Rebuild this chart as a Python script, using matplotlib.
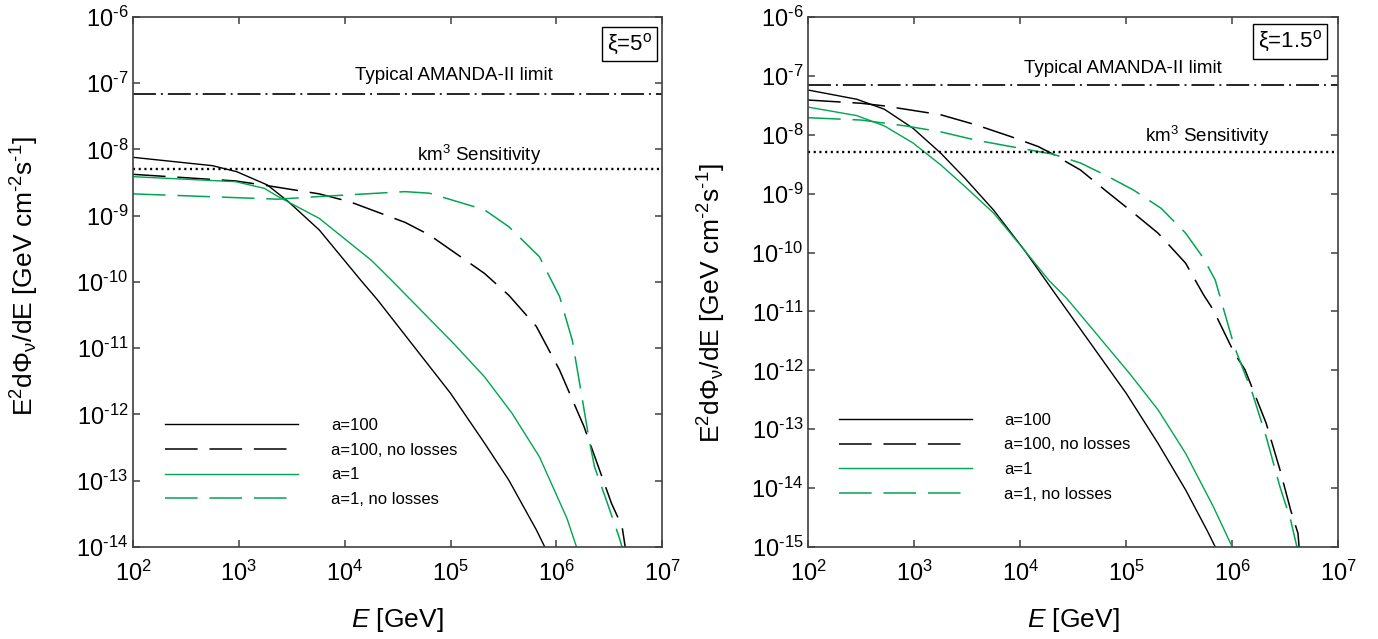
import numpy as np
import matplotlib
matplotlib.use("Agg")
import matplotlib.pyplot as plt
from matplotlib.ticker import FixedLocator, FixedFormatter, NullLocator

plt.rcParams['font.family'] = ['Liberation Sans', 'DejaVu Sans']
plt.rcParams['mathtext.fontset'] = 'custom'
plt.rcParams['mathtext.rm'] = 'Liberation Sans'
plt.rcParams['mathtext.it'] = 'Liberation Sans:italic'
plt.rcParams['mathtext.bf'] = 'Liberation Sans:bold'
plt.rcParams['mathtext.sf'] = 'Liberation Sans'
plt.rcParams['lines.scale_dashes'] = False

# ---------------- data (log10 values) ----------------
# Panel 1: xi = 5 deg
logE_p1_a100 = [2.0, 2.75, 2.98, 3.27, 3.47, 3.76, 4.15, 4.31, 5.0, 5.32, 5.55, 5.81, 5.89]
logF_p1_a100 = [-8.118, -8.244, -8.335, -8.536, -8.79, -9.215, -9.97, -10.27, -11.68, -12.43, -12.99, -13.74, -14.0]

logE_p1_a100_nl = [2.0, 2.97, 3.27, 3.76, 4.05, 4.57, 4.80, 5.32, 5.55, 5.81, 6.03, 6.26, 6.52, 6.62, 6.65]
logF_p1_a100_nl = [-8.375, -8.475, -8.546, -8.67, -8.79, -9.1, -9.29, -9.87, -10.2, -10.67, -11.33, -12.18, -13.34, -13.69, -14.0]

logE_p1_a1 = [2.0, 2.97, 3.24, 3.37, 3.76, 4.25, 4.44, 5.03, 5.32, 5.58, 5.84, 6.10, 6.19]
logF_p1_a1 = [-8.41, -8.486, -8.586, -8.71, -9.04, -9.67, -9.97, -10.93, -11.43, -11.98, -12.64, -13.57, -14.0]

logE_p1_a1_nl = [2.0, 3.37, 3.76, 4.57, 4.80, 5.32, 5.55, 5.84, 6.03, 6.15, 6.23, 6.31, 6.36, 6.46, 6.59, 6.62]
logF_p1_a1_nl = [-8.67, -8.75, -8.71, -8.636, -8.66, -8.91, -9.165, -9.62, -10.22, -10.88, -11.63, -12.39, -12.79, -13.24, -13.84, -14.0]

# Panel 2: xi = 1.5 deg
logE_p2_a100 = [2.0, 2.46, 2.72, 2.99, 3.25, 3.48, 3.75, 4.04, 4.24, 4.37, 5.0, 5.30, 5.56, 5.76, 5.84]
logF_p2_a100 = [-7.24, -7.397, -7.567, -7.89, -8.31, -8.74, -9.28, -9.96, -10.47, -10.80, -12.39, -13.24, -14.03, -14.71, -15.0]

logE_p2_a100_nl = [2.0, 2.5, 2.72, 3.25, 3.58, 3.91, 4.17, 4.31, 4.57, 4.80, 5.07, 5.30, 5.56, 5.73, 5.82, 6.02, 6.12, 6.32, 6.45, 6.55, 6.62, 6.63]
logF_p2_a100_nl = [-7.41, -7.465, -7.51, -7.66, -7.83, -8.03, -8.20, -8.33, -8.60, -8.94, -9.33, -9.67, -10.18, -10.72, -10.97, -11.71, -11.99, -12.90, -13.69, -14.37, -14.77, -15.0]

logE_p2_a1 = [2.0, 2.46, 2.72, 2.99, 3.25, 3.48, 3.75, 4.04, 4.27, 4.44, 5.03, 5.30, 5.56, 5.82, 6.0]
logF_p2_a1 = [-7.53, -7.675, -7.85, -8.14, -8.51, -8.88, -9.33, -9.96, -10.47, -10.78, -12.05, -12.67, -13.41, -14.31, -15.0]

logE_p2_a1_nl = [2.0, 2.5, 2.92, 3.25, 3.58, 3.91, 4.31, 4.57, 4.83, 5.07, 5.33, 5.56, 5.73, 5.84, 6.02, 6.19, 6.32, 6.45, 6.55, 6.61]
logF_p2_a1_nl = [-7.71, -7.75, -7.85, -7.95, -8.09, -8.20, -8.33, -8.48, -8.71, -8.94, -9.25, -9.67, -10.10, -10.47, -11.60, -12.39, -13.13, -13.98, -14.54, -15.0]

amanda_limit = 7e-8
km3_sensitivity = 5e-9

series_labels = ['a=100', 'a=100, no losses', 'a=1', 'a=1, no losses']
panel_titles = [r'$\mathrm{\xi}$=5$^{\rm o}$', r'$\mathrm{\xi}$=1.5$^{\rm o}$']
x_exponents = [2, 3, 4, 5, 6, 7]
y_exponents_p1 = [-6, -7, -8, -9, -10, -11, -12, -13, -14]
y_exponents_p2 = [-6, -7, -8, -9, -10, -11, -12, -13, -14, -15]

# ---------------- styling ----------------
GREEN = '#00a651'
SPINE = '#404040'
LDASH = (0, (23.5, 8.5))
DASHDOT = (0, (16.5, 3.6, 1.4, 3.6))
DOTTED = (0, (1.5, 2.6))

fig = plt.figure(figsize=(13.78, 6.39), dpi=100)
ax1 = fig.add_axes([0.0965, 0.144, 0.3841, 0.8294])
ax2 = fig.add_axes([0.5864, 0.144, 0.3848, 0.8294])


def pw(l):
    return 10.0 ** np.asarray(l)


def sup_label(e):
    s = str(e).replace('-', r'\text{-}')
    return r'$\mathdefault{10^{%s}}$' % s


panels = [
    dict(ax=ax1,
         curves=[(logE_p1_a100, logF_p1_a100), (logE_p1_a100_nl, logF_p1_a100_nl),
                 (logE_p1_a1, logF_p1_a1), (logE_p1_a1_nl, logF_p1_a1_nl)],
         yexp=y_exponents_p1, title=panel_titles[0],
         box=(0.9386, 0.949),
         amanda_txt=(0.6056, 0.881), km3_txt=(0.654, 0.728),
         leg=(0.0606, 0.1594), ylab=(-0.204, 0.51)),
    dict(ax=ax2,
         curves=[(logE_p2_a100, logF_p2_a100), (logE_p2_a100_nl, logF_p2_a100_nl),
                 (logE_p2_a1, logF_p2_a1), (logE_p2_a1_nl, logF_p2_a1_nl)],
         yexp=y_exponents_p2, title=panel_titles[1],
         box=(0.9085, 0.954),
         amanda_txt=(0.594, 0.895), km3_txt=(0.752, 0.7635),
         leg=(0.0577, 0.1694), ylab=(-0.181, 0.46)),
]

styles = [dict(color='black', ls='-', lw=1.0),
          dict(color='black', ls=LDASH, lw=1.1),
          dict(color=GREEN, ls='-', lw=1.0),
          dict(color=GREEN, ls=LDASH, lw=1.1)]

for p in panels:
    ax = p['ax']
    ax.set_xscale('log')
    ax.set_yscale('log')
    handles = []
    for (le, lf), st, lab in zip(p['curves'], styles, series_labels):
        h, = ax.plot(pw(le), pw(lf), label=lab, **st)
        handles.append(h)
    ax.axhline(amanda_limit, color='black', ls=DASHDOT, lw=1.2)
    ax.axhline(km3_sensitivity, color='black', ls=DOTTED, lw=1.7)

    ax.set_xlim(10.0 ** x_exponents[0], 10.0 ** x_exponents[-1])
    ax.set_ylim(10.0 ** min(p['yexp']), 10.0 ** max(p['yexp']))

    ax.xaxis.set_major_locator(FixedLocator(pw(x_exponents)))
    ax.xaxis.set_major_formatter(FixedFormatter([sup_label(e) for e in x_exponents]))
    ax.xaxis.set_minor_locator(NullLocator())
    ax.yaxis.set_major_locator(FixedLocator(pw(p['yexp'])))
    ax.yaxis.set_major_formatter(FixedFormatter([sup_label(e) for e in p['yexp']]))
    ax.yaxis.set_minor_locator(NullLocator())

    ax.tick_params(axis='both', which='major', direction='in', length=5,
                   width=1.1, color=SPINE, top=True, right=True, labelsize=17)
    ax.tick_params(axis='x', pad=10)
    ax.tick_params(axis='y', pad=3.5)
    for sp in ax.spines.values():
        sp.set_color(SPINE)
        sp.set_linewidth(1.2)

    ax.text(*p['amanda_txt'], 'Typical AMANDA-II limit', transform=ax.transAxes,
            ha='center', va='baseline', fontsize=13.5)
    ax.text(*p['km3_txt'], r'km$^{\mathdefault{3}}$ Sensitivity', transform=ax.transAxes,
            ha='center', va='baseline', fontsize=13.5)
    ax.text(*p['box'], p['title'], transform=ax.transAxes, ha='center', va='center',
            fontsize=16,
            bbox=dict(boxstyle='square,pad=0.22', fc='white', ec='black', lw=1.0))

    leg = ax.legend(handles=handles, loc='center left', bbox_to_anchor=p['leg'],
                    frameon=False, fontsize=12, handlelength=8.0, handletextpad=1.95,
                    labelspacing=0.58, borderpad=0, borderaxespad=0)

    ax.set_xlabel(r'$E$ [GeV]', fontsize=19)
    ax.xaxis.set_label_coords(0.5, -0.138)
    ax.xaxis.label.set_va('center')
    ax.set_ylabel(r'E$^{\mathdefault{2}}$d$\mathrm{\Phi}_{\mathrm{\nu}}$/dE [GeV cm$^{\text{-2}}$s$^{\text{-1}}$]',
                  fontsize=19)
    ax.yaxis.set_label_coords(*p['ylab'])
    ax.yaxis.label.set_va('center')

fig.savefig('out.png', dpi=100)
